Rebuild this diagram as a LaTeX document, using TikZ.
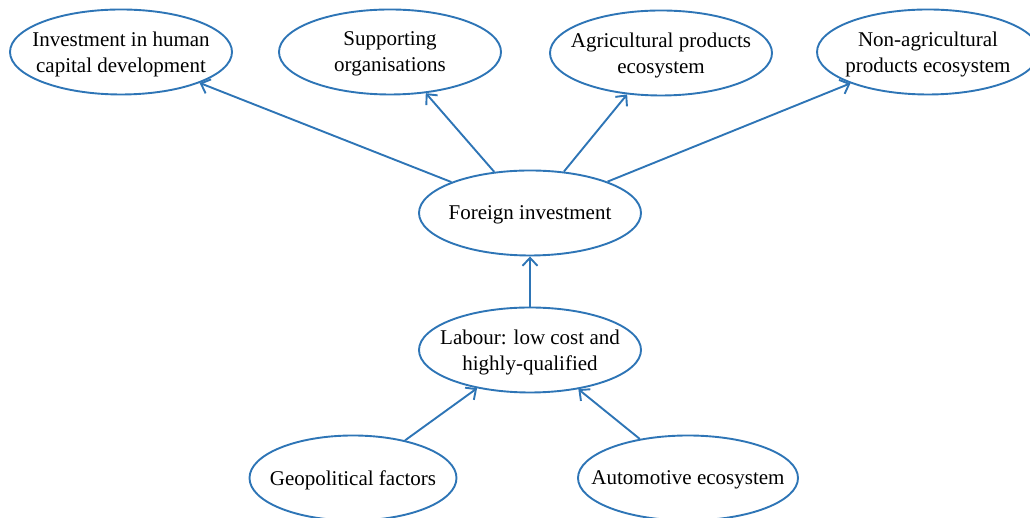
\documentclass[tikz,border=0pt]{standalone}
\usepackage{fontspec}
\setmainfont{Liberation Serif}
\usepackage{tikz}
\usetikzlibrary{arrows.meta,shapes.geometric,positioning}
\definecolor{lineblue}{RGB}{46,117,182}

\begin{document}
\begin{tikzpicture}[x=1pt,y=1pt,
  bubble/.style={ellipse,draw=lineblue,line width=1.9pt,minimum width=222pt,minimum height=85pt,
    inner xsep=-30pt,inner ysep=0pt,text depth=0pt,align=center,font=\fontsize{21}{26}\selectfont},
  link/.style={draw=lineblue,line width=1.9pt,-{Straight Barb[length=8pt,width=15pt,line width=1.9pt]}}]
\useasboundingbox (0,0) rectangle (1030,518);
\clip (0,0) rectangle (1030,518);
% top row
\node [bubble] (human) at (121,466) {Investment in human\\capital development};
\node [bubble] (support) at (390,466) {Supporting\\organisations};
\node [bubble] (agri) at (661,465) {Agricultural products\\ecosystem};
\node [bubble] (nonagri) at (928,466) {Non-agricultural\\products ecosystem};
% middle
\node [bubble] (foreign) at (530,305) {Foreign investment};
\node [bubble] (labour) at (530,168) {Labour: low cost and\\highly-qualified};
% bottom
\node [bubble,minimum width=207pt] (geo) at (353,40) {Geopolitical factors};
\node [bubble,minimum width=220pt] (auto) at (688,40) {Automotive ecosystem};

\draw [link] (foreign) -- (human);
\draw [link] (foreign) -- (support);
\draw [link] (foreign) -- (agri);
\draw [link] (foreign) -- (nonagri);
\draw [link] (labour) -- (foreign);
\draw [link] (geo) -- (labour);
\draw [link] (auto) -- (labour);
\end{tikzpicture}
\end{document}
